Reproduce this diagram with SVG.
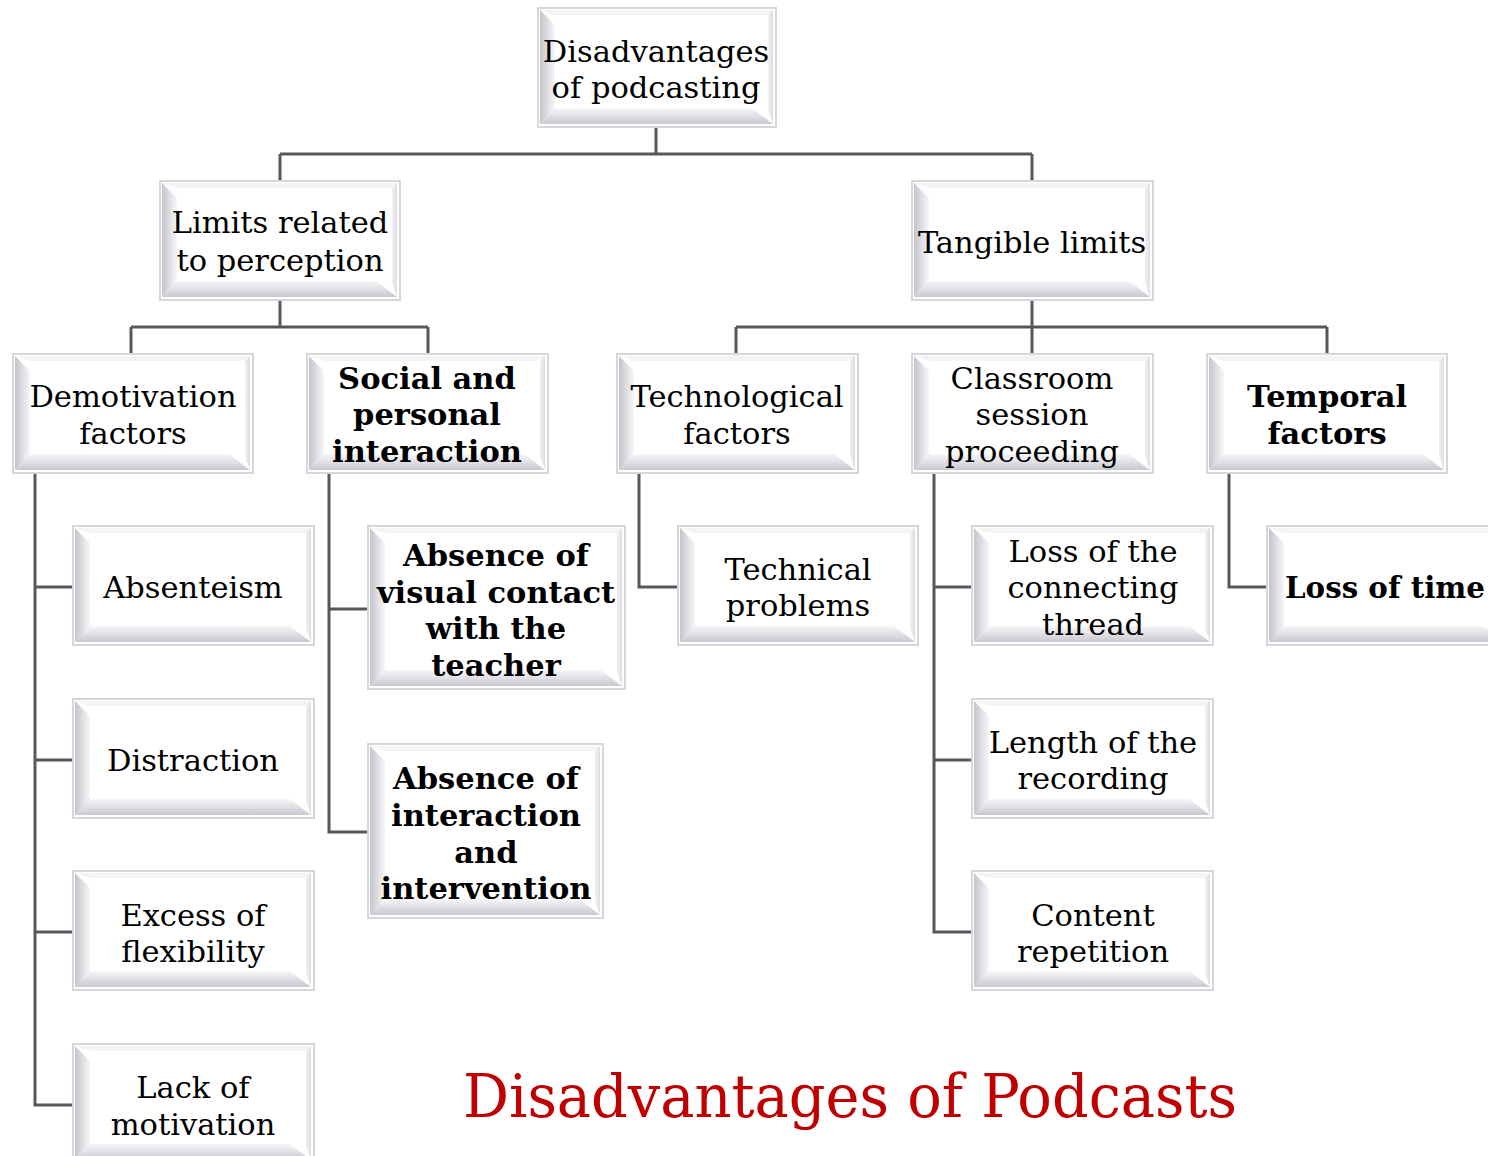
<svg xmlns="http://www.w3.org/2000/svg" width="1488" height="1156" viewBox="0 0 1488 1156">
  <defs>
    <linearGradient id="gLeft" x1="0" y1="0" x2="1" y2="0">
      <stop offset="0" stop-color="#c4c4cc"/>
      <stop offset="1" stop-color="#f7f7fa"/>
    </linearGradient>
    <linearGradient id="gBottom" x1="0" y1="0" x2="0" y2="1">
      <stop offset="0" stop-color="#f7f7fa"/>
      <stop offset="1" stop-color="#c8c8d0"/>
    </linearGradient>
    <linearGradient id="gRight" x1="0" y1="0" x2="1" y2="0">
      <stop offset="0" stop-color="#f2f2f5"/>
      <stop offset="1" stop-color="#dcdce2"/>
    </linearGradient>
  </defs>
  <style>
    .frame { fill: none; stroke: #d6d6dc; stroke-width: 2; }
    .face { fill: #ffffff; }
    .bl { fill: url(#gLeft); }
    .bb { fill: url(#gBottom); }
    .br { fill: url(#gRight); }
    .bt { fill: #f4f4f7; }
    .lbl { font-family: "DejaVu Serif", serif; font-size: 30.5px; fill: #000; text-anchor: middle; }
    .bold { font-weight: bold; }
    .wire { fill: none; stroke: #58585c; stroke-width: 3; }
    .title { font-family: "DejaVu Serif Condensed", "DejaVu Serif", serif; font-size: 60px; fill: #c00000; }
  </style>

  <!-- connectors -->
  <g id="connectors">
    <path class="wire" d="M656 127 V154 M280 154 H1032 M280 154 V180 M1032 154 V180"/>
    <path class="wire" d="M280 300 V327 M131 327 H428 M131 327 V353 M428 327 V353"/>
    <path class="wire" d="M1032 300 V353 M736 327 H1327 M736 327 V353 M1327 327 V353"/>
    <path class="wire" d="M35 474 V1105 H72 M35 587 H72 M35 760 H72 M35 932 H72"/>
    <path class="wire" d="M329 474 V832 H367 M329 609 H367"/>
    <path class="wire" d="M639 474 V587 H677"/>
    <path class="wire" d="M934 474 V932 H971 M934 587 H971 M934 760 H971"/>
    <path class="wire" d="M1229 474 V587 H1266"/>
  </g>

  <!-- root -->
  <g id="n-root">
    <rect class="frame" x="538" y="8" width="238" height="119"/>
    <rect class="face" x="540" y="10" width="233" height="114"/>
    <polygon class="bt" points="540,10 773,10 768,15 555,15"/>
    <polygon class="br" points="773,10 773,124 768,110 768,15"/>
    <polygon class="bl" points="540,10 555,25 555,108 540,124"/>
    <polygon class="bb" points="540,124 555,108 752,108 773,124"/>
    <text class="lbl" x="656" y="62">Disadvantages</text>
    <text class="lbl" x="656" y="98">of podcasting</text>
  </g>

  <g id="n-perception">
    <rect class="frame" x="160" y="181" width="240" height="119"/>
    <rect class="face" x="162" y="183" width="235" height="114"/>
    <polygon class="bt" points="162,183 397,183 392,188 177,188"/>
    <polygon class="br" points="397,183 397,297 392,283 392,188"/>
    <polygon class="bl" points="162,183 177,198 177,281 162,297"/>
    <polygon class="bb" points="162,297 177,281 376,281 397,297"/>
    <text class="lbl" x="280" y="233">Limits related</text>
    <text class="lbl" x="280" y="271">to perception</text>
  </g>

  <g id="n-tangible">
    <rect class="frame" x="912" y="181" width="241" height="119"/>
    <rect class="face" x="914" y="183" width="236" height="114"/>
    <polygon class="bt" points="914,183 1150,183 1145,188 929,188"/>
    <polygon class="br" points="1150,183 1150,297 1145,283 1145,188"/>
    <polygon class="bl" points="914,183 929,198 929,281 914,297"/>
    <polygon class="bb" points="914,297 929,281 1129,281 1150,297"/>
    <text class="lbl" x="1032" y="253">Tangible limits</text>
  </g>

  <g id="n-demotivation">
    <rect class="frame" x="13" y="354" width="240" height="119"/>
    <rect class="face" x="15" y="356" width="235" height="114"/>
    <polygon class="bt" points="15,356 250,356 245,361 30,361"/>
    <polygon class="br" points="250,356 250,470 245,456 245,361"/>
    <polygon class="bl" points="15,356 30,371 30,454 15,470"/>
    <polygon class="bb" points="15,470 30,454 229,454 250,470"/>
    <text class="lbl" x="133" y="407">Demotivation</text>
    <text class="lbl" x="133" y="444">factors</text>
  </g>

  <g id="n-social">
    <rect class="frame" x="307" y="354" width="241" height="119"/>
    <rect class="face" x="309" y="356" width="236" height="114"/>
    <polygon class="bt" points="309,356 545,356 540,361 324,361"/>
    <polygon class="br" points="545,356 545,470 540,456 540,361"/>
    <polygon class="bl" points="309,356 324,371 324,454 309,470"/>
    <polygon class="bb" points="309,470 324,454 524,454 545,470"/>
    <text class="lbl bold" x="427" y="389">Social and</text>
    <text class="lbl bold" x="427" y="425">personal</text>
    <text class="lbl bold" x="427" y="462">interaction</text>
  </g>

  <g id="n-technological">
    <rect class="frame" x="617" y="354" width="241" height="119"/>
    <rect class="face" x="619" y="356" width="236" height="114"/>
    <polygon class="bt" points="619,356 855,356 850,361 634,361"/>
    <polygon class="br" points="855,356 855,470 850,456 850,361"/>
    <polygon class="bl" points="619,356 634,371 634,454 619,470"/>
    <polygon class="bb" points="619,470 634,454 834,454 855,470"/>
    <text class="lbl" x="737" y="407">Technological</text>
    <text class="lbl" x="737" y="444">factors</text>
  </g>

  <g id="n-classroom">
    <rect class="frame" x="912" y="354" width="241" height="119"/>
    <rect class="face" x="914" y="356" width="236" height="114"/>
    <polygon class="bt" points="914,356 1150,356 1145,361 929,361"/>
    <polygon class="br" points="1150,356 1150,470 1145,456 1145,361"/>
    <polygon class="bl" points="914,356 929,371 929,454 914,470"/>
    <polygon class="bb" points="914,470 929,454 1129,454 1150,470"/>
    <text class="lbl" x="1032" y="389">Classroom</text>
    <text class="lbl" x="1032" y="425">session</text>
    <text class="lbl" x="1032" y="462">proceeding</text>
  </g>

  <g id="n-temporal">
    <rect class="frame" x="1207" y="354" width="240" height="119"/>
    <rect class="face" x="1209" y="356" width="235" height="114"/>
    <polygon class="bt" points="1209,356 1444,356 1439,361 1224,361"/>
    <polygon class="br" points="1444,356 1444,470 1439,456 1439,361"/>
    <polygon class="bl" points="1209,356 1224,371 1224,454 1209,470"/>
    <polygon class="bb" points="1209,470 1224,454 1423,454 1444,470"/>
    <text class="lbl bold" x="1327" y="407">Temporal</text>
    <text class="lbl bold" x="1327" y="444">factors</text>
  </g>

  <!-- leaves under Demotivation factors -->
  <g id="n-absenteism">
    <rect class="frame" x="73" y="526" width="241" height="119"/>
    <rect class="face" x="75" y="528" width="236" height="114"/>
    <polygon class="bt" points="75,528 311,528 306,533 90,533"/>
    <polygon class="br" points="311,528 311,642 306,628 306,533"/>
    <polygon class="bl" points="75,528 90,543 90,626 75,642"/>
    <polygon class="bb" points="75,642 90,626 290,626 311,642"/>
    <text class="lbl" x="193" y="598">Absenteism</text>
  </g>

  <g id="n-distraction">
    <rect class="frame" x="73" y="699" width="241" height="119"/>
    <rect class="face" x="75" y="701" width="236" height="114"/>
    <polygon class="bt" points="75,701 311,701 306,706 90,706"/>
    <polygon class="br" points="311,701 311,815 306,801 306,706"/>
    <polygon class="bl" points="75,701 90,716 90,799 75,815"/>
    <polygon class="bb" points="75,815 90,799 290,799 311,815"/>
    <text class="lbl" x="193" y="771">Distraction</text>
  </g>

  <g id="n-flexibility">
    <rect class="frame" x="73" y="871" width="241" height="119"/>
    <rect class="face" x="75" y="873" width="236" height="114"/>
    <polygon class="bt" points="75,873 311,873 306,878 90,878"/>
    <polygon class="br" points="311,873 311,987 306,973 306,878"/>
    <polygon class="bl" points="75,873 90,888 90,971 75,987"/>
    <polygon class="bb" points="75,987 90,971 290,971 311,987"/>
    <text class="lbl" x="193" y="926">Excess of</text>
    <text class="lbl" x="193" y="962">flexibility</text>
  </g>

  <g id="n-motivation">
    <rect class="frame" x="73" y="1044" width="241" height="119"/>
    <rect class="face" x="75" y="1046" width="236" height="114"/>
    <polygon class="bt" points="75,1046 311,1046 306,1051 90,1051"/>
    <polygon class="br" points="311,1046 311,1160 306,1146 306,1051"/>
    <polygon class="bl" points="75,1046 90,1061 90,1144 75,1160"/>
    <polygon class="bb" points="75,1160 90,1144 290,1144 311,1160"/>
    <text class="lbl" x="193" y="1098">Lack of</text>
    <text class="lbl" x="193" y="1135">motivation</text>
  </g>

  <!-- leaves under Social and personal interaction -->
  <g id="n-visual">
    <rect class="frame" x="368" y="526" width="257" height="163"/>
    <rect class="face" x="370" y="528" width="252" height="158"/>
    <polygon class="bt" points="370,528 622,528 617,533 385,533"/>
    <polygon class="br" points="622,528 622,686 617,672 617,533"/>
    <polygon class="bl" points="370,528 385,543 385,670 370,686"/>
    <polygon class="bb" points="370,686 385,670 601,670 622,686"/>
    <text class="lbl bold" x="496" y="566">Absence of</text>
    <text class="lbl bold" x="496" y="603">visual contact</text>
    <text class="lbl bold" x="496" y="639">with the</text>
    <text class="lbl bold" x="496" y="676">teacher</text>
  </g>

  <g id="n-intervention">
    <rect class="frame" x="368" y="744" width="235" height="174"/>
    <rect class="face" x="370" y="746" width="230" height="169"/>
    <polygon class="bt" points="370,746 600,746 595,751 385,751"/>
    <polygon class="br" points="600,746 600,915 595,901 595,751"/>
    <polygon class="bl" points="370,746 385,761 385,899 370,915"/>
    <polygon class="bb" points="370,915 385,899 579,899 600,915"/>
    <text class="lbl bold" x="486" y="789">Absence of</text>
    <text class="lbl bold" x="486" y="826">interaction</text>
    <text class="lbl bold" x="486" y="863">and</text>
    <text class="lbl bold" x="486" y="899">intervention</text>
  </g>

  <!-- leaf under Technological factors -->
  <g id="n-technical">
    <rect class="frame" x="678" y="526" width="240" height="119"/>
    <rect class="face" x="680" y="528" width="235" height="114"/>
    <polygon class="bt" points="680,528 915,528 910,533 695,533"/>
    <polygon class="br" points="915,528 915,642 910,628 910,533"/>
    <polygon class="bl" points="680,528 695,543 695,626 680,642"/>
    <polygon class="bb" points="680,642 695,626 894,626 915,642"/>
    <text class="lbl" x="798" y="580">Technical</text>
    <text class="lbl" x="798" y="616">problems</text>
  </g>

  <!-- leaves under Classroom session proceeding -->
  <g id="n-thread">
    <rect class="frame" x="972" y="526" width="241" height="119"/>
    <rect class="face" x="974" y="528" width="236" height="114"/>
    <polygon class="bt" points="974,528 1210,528 1205,533 989,533"/>
    <polygon class="br" points="1210,528 1210,642 1205,628 1205,533"/>
    <polygon class="bl" points="974,528 989,543 989,626 974,642"/>
    <polygon class="bb" points="974,642 989,626 1189,626 1210,642"/>
    <text class="lbl" x="1093" y="562">Loss of the</text>
    <text class="lbl" x="1093" y="598">connecting</text>
    <text class="lbl" x="1093" y="635">thread</text>
  </g>

  <g id="n-length">
    <rect class="frame" x="972" y="699" width="241" height="119"/>
    <rect class="face" x="974" y="701" width="236" height="114"/>
    <polygon class="bt" points="974,701 1210,701 1205,706 989,706"/>
    <polygon class="br" points="1210,701 1210,815 1205,801 1205,706"/>
    <polygon class="bl" points="974,701 989,716 989,799 974,815"/>
    <polygon class="bb" points="974,815 989,799 1189,799 1210,815"/>
    <text class="lbl" x="1093" y="753">Length of the</text>
    <text class="lbl" x="1093" y="789">recording</text>
  </g>

  <g id="n-repetition">
    <rect class="frame" x="972" y="871" width="241" height="119"/>
    <rect class="face" x="974" y="873" width="236" height="114"/>
    <polygon class="bt" points="974,873 1210,873 1205,878 989,878"/>
    <polygon class="br" points="1210,873 1210,987 1205,973 1205,878"/>
    <polygon class="bl" points="974,873 989,888 989,971 974,987"/>
    <polygon class="bb" points="974,987 989,971 1189,971 1210,987"/>
    <text class="lbl" x="1093" y="926">Content</text>
    <text class="lbl" x="1093" y="962">repetition</text>
  </g>

  <!-- leaf under Temporal factors -->
  <g id="n-time">
    <rect class="frame" x="1267" y="526" width="241" height="119"/>
    <rect class="face" x="1269" y="528" width="236" height="114"/>
    <polygon class="bt" points="1269,528 1505,528 1500,533 1284,533"/>
    <polygon class="bl" points="1269,528 1284,543 1284,626 1269,642"/>
    <polygon class="bb" points="1269,642 1284,626 1484,626 1505,642"/>
    <text class="lbl bold" x="1285" y="598" style="text-anchor:start" textLength="200" lengthAdjust="spacingAndGlyphs">Loss of time</text>
  </g>

  <text class="title" x="463" y="1117" textLength="774" lengthAdjust="spacingAndGlyphs">Disadvantages of Podcasts</text>
</svg>
